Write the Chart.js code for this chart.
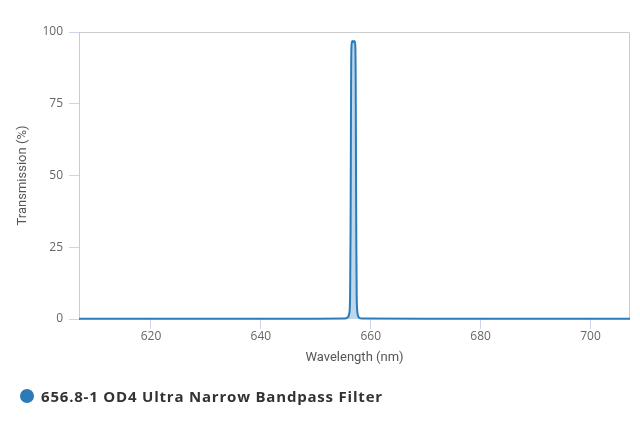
<!DOCTYPE html>
<html>
<head>
<meta charset="utf-8">
<script src="https://cdn.jsdelivr.net/npm/chart.js@4"></script>
<style>
  html, body { margin: 0; padding: 0; background: #fff; }
  #wrap { position: relative; width: 640px; height: 427px; }
  #legend { position: absolute; left: 20px; top: 386px; display: flex; align-items: center;
    font-family: "Open Sans", sans-serif; font-weight: 700; font-size: 15px; letter-spacing: 0.8px; color: #333; white-space: nowrap; }
  #legend .dot { width: 14px; height: 14px; border-radius: 50%; background: #2b7bb9; margin-right: 7px; }
</style>
</head>
<body>
<div id="wrap">
  <canvas id="c" width="640" height="427"></canvas>
  <div id="legend"><span class="dot"></span><span id="legendText"></span></div>
</div>
<script>
const seriesName = "656.8-1 OD4 Ultra Narrow Bandpass Filter";
const wavelengths = [606.9, 630, 650, 655.3, 655.8, 656.1, 656.25, 656.33, 656.38, 656.43, 656.5, 656.65, 656.85, 657.05, 657.2, 657.27, 657.32, 657.37, 657.45, 657.6, 657.9, 658.4, 670, 707.2];
const transmission = [0.1, 0.1, 0.1, 0.15, 0.5, 2, 8, 30, 55, 82, 95, 96.9, 96.5, 96.9, 95, 82, 55, 30, 8, 2, 0.5, 0.15, 0.1, 0.1];
const xTicks = [620, 640, 660, 680, 700];
const yTicks = [0, 25, 50, 75, 100];

document.getElementById('legendText').textContent = seriesName;

const borderPlugin = {
  id: 'plotBorder',
  beforeDatasetsDraw(chart) {
    const a = chart.chartArea, ctx = chart.ctx;
    ctx.save();
    ctx.strokeStyle = '#cccccc';
    ctx.lineWidth = 1;
    ctx.beginPath();
    ctx.moveTo(a.left + 0.5, a.bottom);
    ctx.lineTo(a.left + 0.5, a.top + 0.5);
    ctx.lineTo(a.right - 0.5, a.top + 0.5);
    ctx.lineTo(a.right - 0.5, a.bottom);
    ctx.stroke();
    ctx.restore();
  }
};

new Chart(document.getElementById('c'), {
  type: 'line',
  data: {
    datasets: [{
      label: seriesName,
      data: wavelengths.map((w, i) => ({x: w, y: transmission[i]})),
      borderColor: '#2b7bb9',
      backgroundColor: 'rgba(43,123,185,0.3)',
      borderWidth: 2,
      fill: 'origin',
      pointRadius: 0,
      tension: 0,
      cubicInterpolationMode: 'monotone',
      clip: 4
    }]
  },
  options: {
    responsive: false,
    animation: false,
    layout: { padding: { top: 32, right: 10, left: 0, bottom: 0 } },
    plugins: { legend: { display: false }, tooltip: { enabled: false } },
    scales: {
      x: {
        type: 'linear',
        min: 606.9,
        max: 707.2,
        afterBuildTicks: s => { s.ticks = xTicks.map(v => ({value: v})); },
        afterFit: s => { s.height = 108; },
        grid: { drawOnChartArea: false, drawTicks: true, tickLength: 10, color: '#ccd6eb' },
        border: { display: false },
        ticks: { padding: 0, color: '#666', font: { family: 'Open Sans', size: 12 }, maxRotation: 0 },
        title: { display: true, text: 'Wavelength (nm)', color: '#555', font: { family: 'Roboto', size: 13 }, padding: { top: 0, bottom: 61 } }
      },
      y: {
        min: 0,
        max: 100,
        afterBuildTicks: s => { s.ticks = yTicks.map(v => ({value: v})); },
        afterFit: s => { s.width = 79; },
        grid: { drawOnChartArea: false, drawTicks: true, tickLength: 10, color: '#ccd6eb' },
        border: { display: true, color: '#cccccc' },
        ticks: { padding: 6, color: '#666', font: { family: 'Open Sans', size: 12 } },
        title: { display: true, text: 'Transmission (%)', color: '#555', font: { family: 'Roboto', size: 13 }, padding: { top: 15, bottom: 0 } }
      }
    }
  },
  plugins: [borderPlugin]
});
</script>
</body>
</html>
